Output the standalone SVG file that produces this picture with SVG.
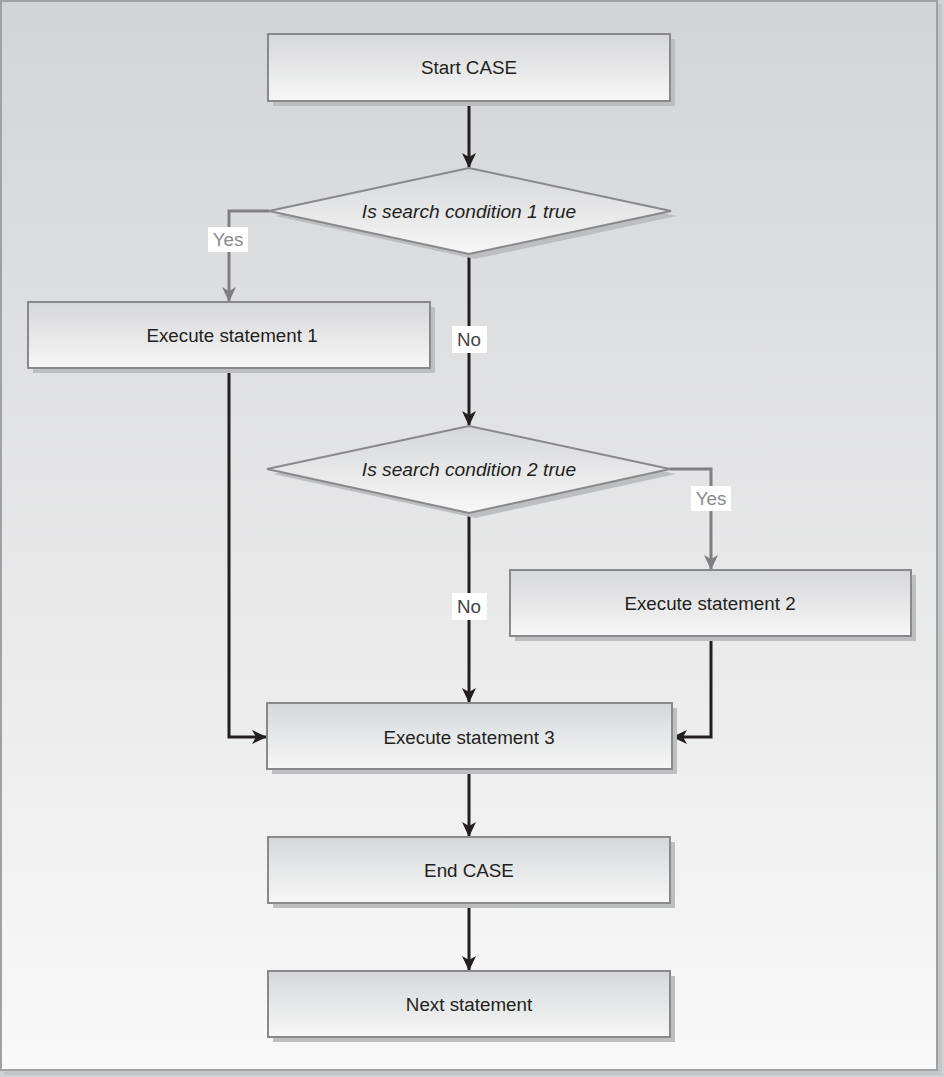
<svg xmlns="http://www.w3.org/2000/svg" width="944" height="1077" viewBox="0 0 944 1077">
<style>
.box{fill:url(#boxg);stroke:#89898b;stroke-width:2}
.shadow{fill:#bdbec0}
.t{font-family:"Liberation Sans",Arial,sans-serif;font-size:18.8px;fill:#231f20;text-anchor:middle}
.i{font-style:italic;font-size:19.2px}
.blk{fill:none;stroke:#231f20;stroke-width:3}
.gry{fill:none;stroke:#808082;stroke-width:3}
.lbl{fill:#ffffff}
.lt{font-family:"Liberation Sans",Arial,sans-serif;font-size:18.8px;text-anchor:middle}
</style>
<defs>
<linearGradient id="bg" x1="0" y1="0" x2="0" y2="1">
<stop offset="0" stop-color="#d3d4d6"/>
<stop offset="1" stop-color="#f9f9f9"/>
</linearGradient>
<linearGradient id="boxg" x1="0" y1="0" x2="0" y2="1">
<stop offset="0" stop-color="#d6d7d9"/>
<stop offset="1" stop-color="#f7f7f7"/>
</linearGradient>
<marker id="ab" markerWidth="15" markerHeight="14" viewBox="0 0 15 14" refX="14" refY="7" orient="auto" markerUnits="userSpaceOnUse">
<path d="M0,0 L15,7 L0,14 L4,7 Z" fill="#231f20"/>
</marker>
<marker id="ag" markerWidth="15" markerHeight="14" viewBox="0 0 15 14" refX="14" refY="7" orient="auto" markerUnits="userSpaceOnUse">
<path d="M0,0 L15,7 L0,14 L4,7 Z" fill="#808082"/>
</marker>
</defs>
<rect x="0" y="0" width="944" height="1077" fill="#d0d1d3"/>
<rect x="4" y="4" width="938" height="1071" fill="#c4c5c7"/>
<rect x="1" y="1" width="936" height="1069" fill="url(#bg)" stroke="#a0a1a3" stroke-width="2"/>

<g id="connectors">
<line class="blk" x1="469" y1="102" x2="469" y2="167" marker-end="url(#ab)"/>
<polyline class="gry" points="269,211 229,211 229,301" marker-end="url(#ag)"/>
<line class="blk" x1="469" y1="254" x2="469" y2="425" stroke-width="4" marker-end="url(#ab)"/>
<polyline class="gry" points="670,469 711,469 711,569" marker-end="url(#ag)"/>
<line class="blk" x1="469" y1="513" x2="469" y2="702" stroke-width="4" marker-end="url(#ab)"/>
<polyline class="blk" points="229,368 229,737 266,737" marker-end="url(#ab)"/>
<polyline class="blk" points="711,636 711,737 673,737" marker-end="url(#ab)"/>
<line class="blk" x1="469" y1="770" x2="469" y2="836" marker-end="url(#ab)"/>
<line class="blk" x1="469" y1="904" x2="469" y2="970" marker-end="url(#ab)"/>
<rect class="lbl" x="208" y="227" width="40" height="25"/>
<text class="lt" x="228" y="246" fill="#8a8a8c">Yes</text>
<rect class="lbl" x="452" y="326" width="35" height="27"/>
<text class="lt" x="469" y="346" fill="#444">No</text>
<rect class="lbl" x="691" y="486" width="40" height="25"/>
<text class="lt" x="711" y="505" fill="#8a8a8c">Yes</text>
<rect class="lbl" x="452" y="593" width="35" height="27"/>
<text class="lt" x="469" y="613" fill="#444">No</text>
</g>

<g id="start">
<rect class="shadow" x="273" y="39" width="402" height="67"/>
<rect class="box" x="268" y="34" width="402" height="67"/>
<text class="t" x="469" y="74">Start CASE</text>
</g>
<g id="cond1">
<polygon class="shadow" points="275,216 475,173 677,216 475,259"/>
<polygon class="box" points="269,211 469,168 671,211 469,254"/>
<text class="t i" x="469" y="218">Is search condition 1 true</text>
</g>
<g id="exec1">
<rect class="shadow" x="33" y="307" width="402" height="66"/>
<rect class="box" x="28" y="302" width="402" height="66"/>
<text class="t" x="232" y="342">Execute statement 1</text>
</g>
<g id="cond2">
<polygon class="shadow" points="273,474 475,431 676,474 475,518"/>
<polygon class="box" points="267,469 469,426 670,469 469,513"/>
<text class="t i" x="469" y="476">Is search condition 2 true</text>
</g>
<g id="exec2">
<rect class="shadow" x="515" y="575" width="401" height="66"/>
<rect class="box" x="510" y="570" width="401" height="66"/>
<text class="t" x="710" y="610">Execute statement 2</text>
</g>
<g id="exec3">
<rect class="shadow" x="272" y="708" width="405" height="66"/>
<rect class="box" x="267" y="703" width="405" height="66"/>
<text class="t" x="469" y="744">Execute statement 3</text>
</g>
<g id="end">
<rect class="shadow" x="273" y="842" width="402" height="66"/>
<rect class="box" x="268" y="837" width="402" height="66"/>
<text class="t" x="469" y="877">End CASE</text>
</g>
<g id="next">
<rect class="shadow" x="273" y="976" width="402" height="66"/>
<rect class="box" x="268" y="971" width="402" height="66"/>
<text class="t" x="469" y="1011">Next statement</text>
</g>
</svg>
